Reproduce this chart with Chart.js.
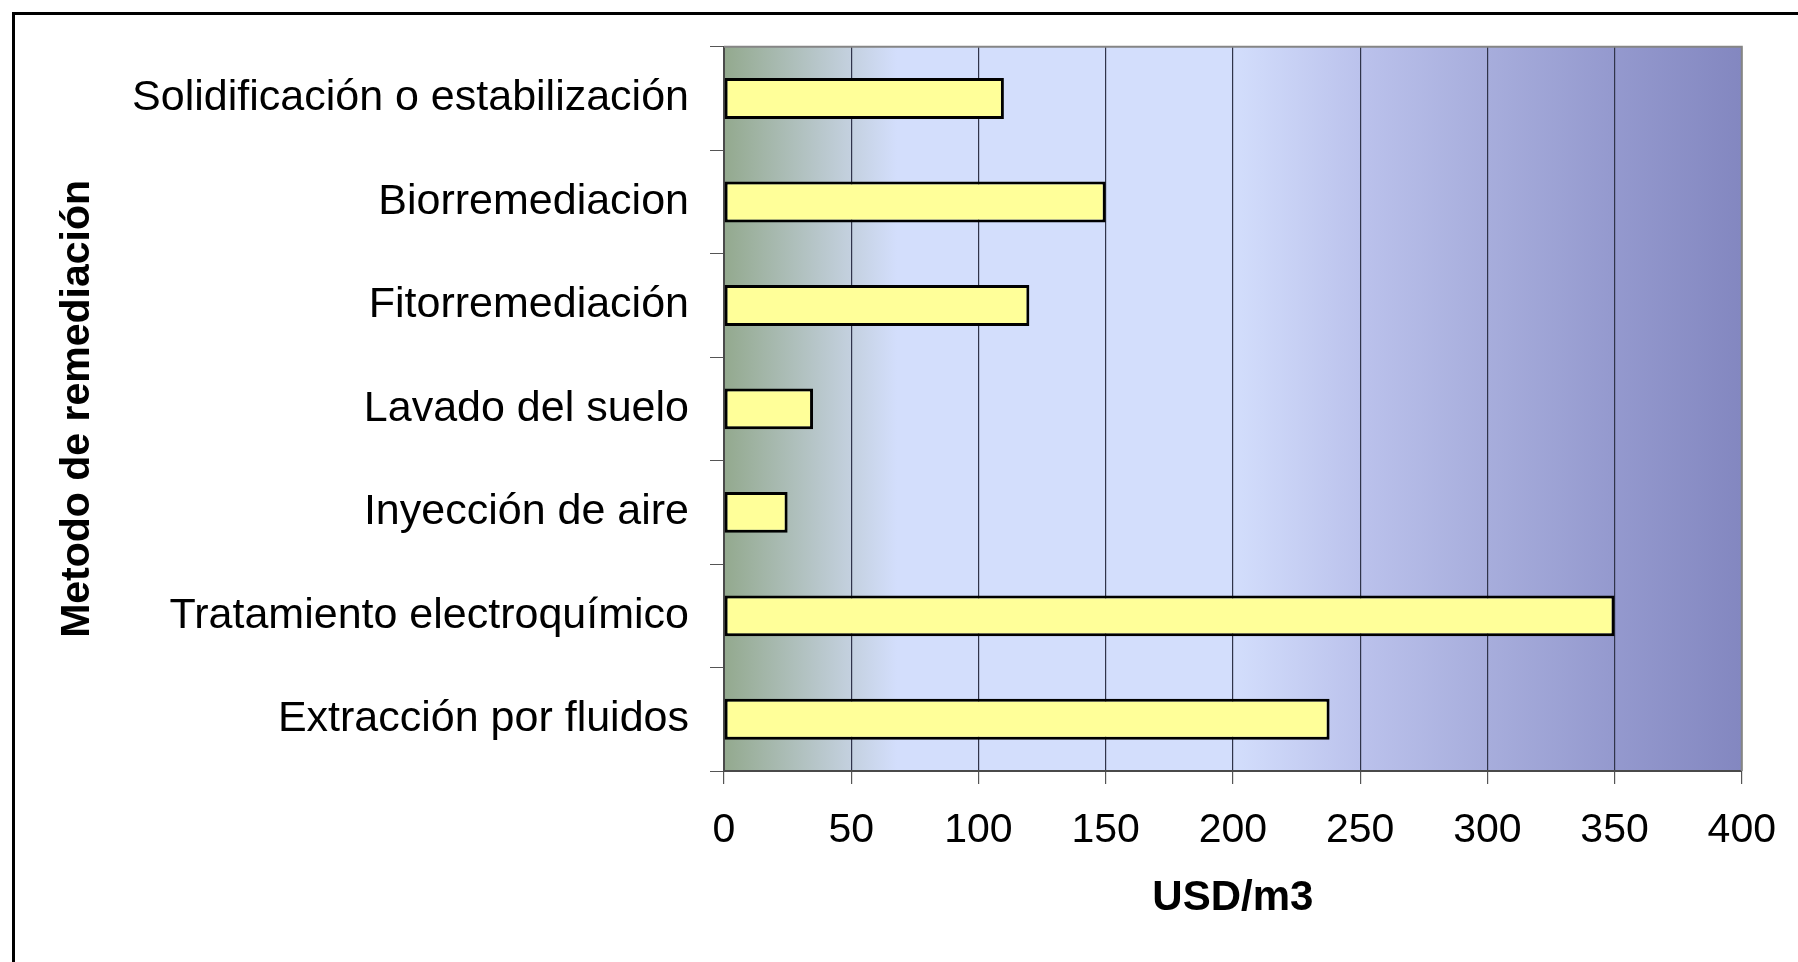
<!DOCTYPE html>
<html lang="es">
<head>
<meta charset="utf-8">
<title>Costo por método de remediación</title>
<script src="https://cdn.jsdelivr.net/npm/chart.js@4.4.1/dist/chart.umd.min.js"></script>
<style>
  html, body { margin: 0; padding: 0; background: #ffffff; overflow: hidden; }
  #zona  { position: relative; width: 1798px; height: 962px; }
  /* marco negro de la figura: solo arriba e izquierda quedan dentro */
  #marco { position: absolute; left: 12px; top: 12px; width: 2000px; height: 1200px;
           border-top: 3px solid #000; border-left: 3px solid #000; pointer-events: none; }
</style>
</head>
<body>
<div id="zona">
  <canvas id="grafico-costos"></canvas>
  <div id="marco"></div>
</div>
<script>
/* ============================================================
   Costo por método de remediación — barras horizontales
   ============================================================ */

/* ── Datos ────────────────────────────────────────────────── */
const CATEGORIAS = [
  'Solidificación o estabilización',
  'Biorremediacion',
  'Fitorremediación',
  'Lavado del suelo',
  'Inyección de aire',
  'Tratamiento electroquímico',
  'Extracción por fluidos',
];
const COSTOS_USD_M3 = [110, 150, 120, 35, 25, 350, 238];

const EJE_X_MIN   = 0;
const EJE_X_MAX   = 400;
const EJE_X_PASO  = 50;
const TITULO_X    = 'USD/m3';
const TITULO_Y    = 'Metodo de remediación';

/* ── Estilo ───────────────────────────────────────────────── */
const FUENTE      = "'Liberation Sans', Arial, sans-serif";
const COLOR_BARRA = '#ffff99';
const COLOR_GRID  = '#30344a';

/* Degradado del fondo (verde grisáceo → azul claro → lavanda) */
const PARADAS_FONDO = [
  [0.00, '#93a98e'],
  [0.12, '#c2cfdc'],
  [0.17, '#d3defc'],
  [0.50, '#d3defc'],
  [0.625, '#bbc2ec'],
  [0.75, '#a7addc'],
  [0.875, '#9499ce'],
  [1.00, '#8387c0'],
];

/* ── Plugin : fondo del área + borde gris ─────────────────── */
const pluginFondo = {
  id: 'fondoArea',
  beforeDraw(chart) {
    const { ctx, chartArea: a } = chart;
    ctx.save();
    const g = ctx.createLinearGradient(a.left, 0, a.right, 0);
    PARADAS_FONDO.forEach(([p, c]) => g.addColorStop(p, c));
    ctx.fillStyle = g;
    ctx.fillRect(a.left, a.top, a.right - a.left, a.bottom - a.top);
    ctx.restore();
  },
  afterDraw(chart) {
    const { ctx, chartArea: a } = chart;
    ctx.save();
    /* borde gris superior y derecho del área */
    ctx.strokeStyle = '#858585';
    ctx.lineWidth = 2;
    ctx.beginPath();
    ctx.moveTo(a.left, a.top);
    ctx.lineTo(a.right, a.top);
    ctx.lineTo(a.right, a.bottom);
    ctx.stroke();
    ctx.restore();
  },
};

/* ── Gráfico ──────────────────────────────────────────────── */
new Chart(document.getElementById('grafico-costos').getContext('2d'), {
  type: 'bar',
  data: {
    labels: CATEGORIAS,
    datasets: [{
      data            : COSTOS_USD_M3,
      backgroundColor : COLOR_BARRA,
      borderColor     : '#000000',
      borderWidth     : 3,
      borderSkipped   : false,
      categoryPercentage : 1,
      barPercentage      : 0.395,
    }],
  },
  options: {
    indexAxis           : 'y',
    responsive          : true,
    maintainAspectRatio : false,
    animation           : false,
    layout  : { padding: { top: 39, right: 46, left: 0, bottom: 0 } },
    plugins : { legend: { display: false }, tooltip: { enabled: false } },
    scales: {
      x: {
        min : EJE_X_MIN,
        max : EJE_X_MAX,
        afterFit: s => { s.height = 191; },
        grid: {
          color     : c => (c.tick && c.tick.value === EJE_X_MAX) ? '#858585' : COLOR_GRID,
          lineWidth : 1.2,
          drawTicks : true,
          tickLength: 13,
          tickColor : '#555555',
        },
        border: { color: '#4a4a4a', width: 2 },
        ticks: {
          stepSize : EJE_X_PASO,
          color    : '#000000',
          padding  : 22,
          font     : { family: FUENTE, size: 41 },
        },
        title: {
          display : true,
          text    : TITULO_X,
          color   : '#000000',
          padding : { top: 0, bottom: 38 },
          font    : { family: FUENTE, size: 42, weight: 'bold' },
        },
      },
      y: {
        afterFit: s => { s.width = 724; },
        grid: {
          drawOnChartArea : false,
          drawTicks  : true,
          tickLength : 14,
          tickColor  : '#555555',
        },
        border: { color: '#4a4a4a', width: 2 },
        ticks: {
          color   : '#000000',
          padding : 21,
          font    : { family: FUENTE, size: 43 },
        },
        title: {
          display : true,
          text    : TITULO_Y,
          color   : '#000000',
          padding : { top: 53, bottom: 0 },
          font    : { family: FUENTE, size: 41, weight: 'bold' },
        },
      },
    },
  },
  plugins: [pluginFondo],
});
</script>
</body>
</html>
